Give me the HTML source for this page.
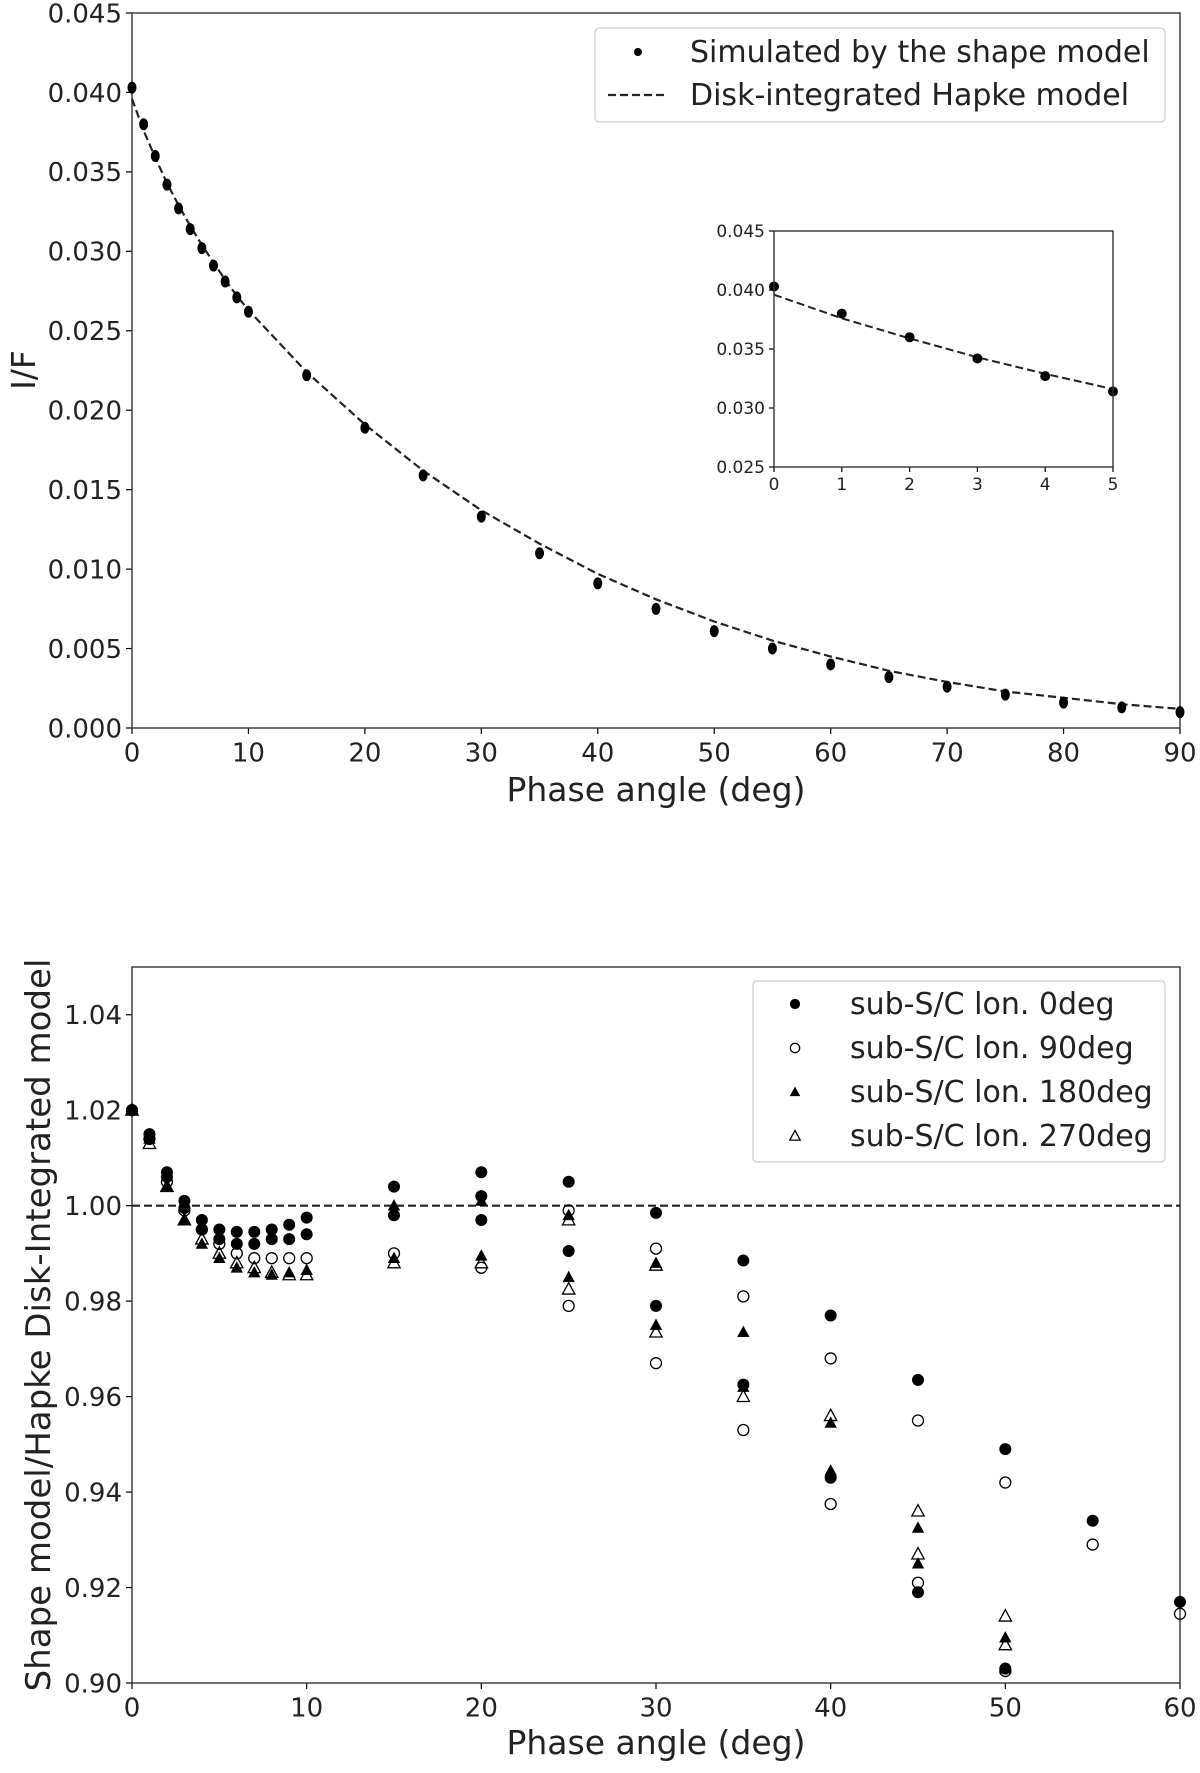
<!DOCTYPE html>
<html><head><meta charset="utf-8"><style>
body{margin:0;background:#fff}
svg{display:block;font-family:"DejaVu Sans","Liberation Sans",sans-serif}
</style></head><body>
<svg id="fig" width="1200" height="1773" viewBox="0 0 1200 1773" xmlns="http://www.w3.org/2000/svg"></svg>
<script>
// ---- Top chart data ----
const topAngles=[0,1,2,3,4,5,6,7,8,9,10,15,20,25,30,35,40,45,50,55,60,65,70,75,80,85,90];
const topSim=[0.0403,0.0380,0.0360,0.0342,0.0327,0.0314,0.0302,0.0291,0.0281,0.0271,0.0262,0.0222,0.0189,0.0159,0.0133,0.0110,0.0091,0.0075,0.0061,0.0050,0.0040,0.0032,0.0026,0.0021,0.0016,0.0013,0.0010];
const topModel=[0.0396,0.0376,0.0359,0.0343,0.0329,0.0316,0.0304,0.0293,0.0282,0.0272,0.0263,0.0224,0.0191,0.0162,0.0137,0.0116,0.0097,0.0081,0.0067,0.0055,0.0045,0.0036,0.0029,0.0023,0.0019,0.0015,0.0012];
const topYTicks=[0,0.005,0.010,0.015,0.020,0.025,0.030,0.035,0.040,0.045];
const topXTicks=[0,10,20,30,40,50,60,70,80,90];
const insetYTicks=[0.025,0.030,0.035,0.040,0.045];
const insetXTicks=[0,1,2,3,4,5];
// ---- Bottom chart data ----
const botX0=[0,1,1,2,2,3,3,4,4,5,5,6,6,7,7,8,8,9,9,10,10,15,15,20,20,20,25,25,30,30,35,35,40,40,45,45,50,50,55,60];
const botY0=[1.020,1.015,1.014,1.007,1.006,1.001,0.9995,0.997,0.995,0.995,0.993,0.9945,0.992,0.9945,0.992,0.995,0.993,0.996,0.993,0.9975,0.994,1.004,0.998,1.007,1.002,0.997,1.005,0.9905,0.9985,0.979,0.9885,0.9625,0.977,0.943,0.9635,0.919,0.949,0.903,0.934,0.917];
const botX90=[0,1,2,3,4,5,6,7,8,9,10,15,20,25,25,30,30,35,35,40,40,45,45,50,50,55,60];
const botY90=[1.020,1.014,1.005,0.999,0.995,0.992,0.990,0.989,0.989,0.989,0.989,0.990,0.987,0.999,0.979,0.991,0.967,0.981,0.953,0.968,0.9375,0.955,0.921,0.942,0.9025,0.929,0.9145];
const botX180=[0,1,2,3,4,5,6,7,8,9,10,15,15,20,20,25,25,30,30,35,35,40,40,45,45,50,50];
const botY180=[1.020,1.014,1.004,0.997,0.992,0.989,0.987,0.986,0.9855,0.986,0.9865,0.989,1.000,0.9895,1.001,0.998,0.985,0.988,0.975,0.9735,0.962,0.9545,0.9445,0.9325,0.925,0.9095,0.903];
const botX270=[0,1,2,3,4,5,6,7,8,9,10,15,20,25,25,30,30,35,40,45,45,50,50];
const botY270=[1.020,1.013,1.004,0.997,0.993,0.990,0.988,0.987,0.986,0.9855,0.9855,0.988,0.988,0.997,0.9825,0.9875,0.9735,0.960,0.956,0.936,0.927,0.914,0.908];
const botYTicks=[0.90,0.92,0.94,0.96,0.98,1.00,1.02,1.04];
const botXTicks=[0,10,20,30,40,50,60];

const NS="http://www.w3.org/2000/svg";
const svg=document.getElementById('fig');
function mk(tag,attrs,parent,text){const e=document.createElementNS(NS,tag);for(const k in attrs)e.setAttribute(k,attrs[k]);if(text!==undefined)e.textContent=text;(parent||svg).appendChild(e);return e;}
function scale(d0,d1,r0,r1){return v=>r0+(v-d0)/(d1-d0)*(r1-r0);}

function axes(g,L,T,R,B,xs,ys,xt,yt,fs,fmtY,fmtX,tl){
  xt.forEach(t=>{const x=xs(t);
    const l=mk('line',{x1:x,x2:x,y1:B,y2:B+tl,stroke:'#000','stroke-width':1.2},g);
    
    const tx=mk('text',{x:x,y:B+tl+fs*1.05,'font-size':fs,'text-anchor':'middle',fill:'#222'},g,fmtX(t));
    });
  yt.forEach(t=>{const y=ys(t);
    const l=mk('line',{x1:L-tl,x2:L,y1:y,y2:y,stroke:'#000','stroke-width':1.2},g);
    
    const tx=mk('text',{x:L-tl-4,y:y+fs*0.36,'font-size':fs,'text-anchor':'end',fill:'#222'},g,fmtY(t));
    });
  const fr=mk('rect',{x:L,y:T,width:R-L,height:B-T,fill:'none',stroke:'#333','stroke-width':1.4},g);
  
}

// ===== TOP =====
const gT=mk('g',{});
const tL=132,tR=1180,tT=13,tB=728;
const txs=scale(0,90,tL,tR),tys=scale(0,0.045,tB,tT);
axes(gT,tL,tT,tR,tB,txs,tys,topXTicks,topYTicks,26,v=>v.toFixed(3),v=>String(v),6);
const clipT=mk('clipPath',{id:'ct'},gT);mk('rect',{x:tL-8,y:tT,width:tR-tL+16,height:tB-tT+8},clipT);
const md=topAngles.map((a,i)=>(i?'L':'M')+txs(a).toFixed(1)+','+tys(topModel[i]).toFixed(1)).join('');
const ml=mk('path',{d:md,fill:'none',stroke:'#222','stroke-width':2.2,'stroke-dasharray':'8,4','clip-path':'url(#ct)'},gT);

topAngles.forEach((a,i)=>{const c=mk('ellipse',{cx:txs(a),cy:tys(topSim[i]),rx:4.5,ry:6,fill:'#000','clip-path':'url(#ct)'},gT);
  });
// inset
const gI=mk('g',{},gT);
const iL=774,iR=1113,iT=231,iB=467;
mk('rect',{x:iL,y:iT,width:iR-iL,height:iB-iT,fill:'#fff'},gI);
const ixs=scale(0,5,iL,iR),iys=scale(0.025,0.045,iB,iT);
const clipI=mk('clipPath',{id:'ci'},gI);mk('rect',{x:iL-7,y:iT,width:iR-iL+14,height:iB-iT},clipI);
const inIdx=topAngles.map((a,i)=>i).filter(i=>topAngles[i]<=5);
const id2=inIdx.map((i,k)=>(k?'L':'M')+ixs(topAngles[i]).toFixed(1)+','+iys(topModel[i]).toFixed(1)).join('');
const il=mk('path',{d:id2,fill:'none',stroke:'#222','stroke-width':2,'stroke-dasharray':'8,4'},gI);

inIdx.forEach(i=>{const c=mk('circle',{cx:ixs(topAngles[i]),cy:iys(topSim[i]),r:5,fill:'#000','clip-path':'url(#ci)'},gI);
  });
axes(gI,iL,iT,iR,iB,ixs,iys,insetXTicks,insetYTicks,17,v=>v.toFixed(3),v=>String(v),5);
// labels
let t=mk('text',{x:tL+(tR-tL)/2,y:801,'font-size':33,'text-anchor':'middle',fill:'#222'},gT,'Phase angle (deg)');

t=mk('text',{x:0,y:0,'font-size':33,'text-anchor':'middle',fill:'#222',transform:'translate(35,370) rotate(-90)'},gT,'I/F');

// legend
const lgT=mk('g',{},gT);
mk('rect',{x:595,y:28,width:570,height:94,rx:4,fill:'#fff',stroke:'#ccc','stroke-width':1.2},lgT);
mk('circle',{cx:638,cy:52,r:4,fill:'#000'},lgT);
mk('line',{x1:608,x2:668,y1:95,y2:95,stroke:'#222','stroke-width':2.2,'stroke-dasharray':'8,4'},lgT);
t=mk('text',{x:690,y:62,'font-size':30,fill:'#222'},lgT,'Simulated by the shape model');
t=mk('text',{x:690,y:105,'font-size':30,fill:'#222'},lgT,'Disk-integrated Hapke model');

// ===== BOTTOM =====
const gB=mk('g',{});
const bL=132,bR=1180,bT=967,bB=1683;
const bxs=scale(0,60,bL,bR),bys=scale(0.90,1.05,bB,bT);
axes(gB,bL,bT,bR,bB,bxs,bys,botXTicks,botYTicks,26,v=>v.toFixed(2),v=>String(v),6);
const clipB=mk('clipPath',{id:'cb'},gB);mk('rect',{x:bL-8,y:bT,width:bR-bL+16,height:bB-bT+8},clipB);
const rl=mk('line',{x1:bL,x2:bR,y1:bys(1),y2:bys(1),stroke:'#222','stroke-width':2.2,'stroke-dasharray':'8,4'},gB);

function marker(kind,cx,cy,g,s){
  s=s||1;
  if(kind==='fc')return mk('circle',{cx,cy,r:6*s,fill:'#000'},g);
  if(kind==='oc')return mk('circle',{cx,cy,r:5.5*s,fill:'none',stroke:'#000','stroke-width':1.3},g);
  const h=6.5*s,p=`${cx},${cy-h} ${cx+h*0.95},${cy+h*0.75} ${cx-h*0.95},${cy+h*0.75}`;
  if(kind==='ft')return mk('polygon',{points:p,fill:'#000'},g);
  return mk('polygon',{points:p,fill:'none',stroke:'#000','stroke-width':1.3},g);
}
const series=[['fc',botX0,botY0,'lon-0'],['oc',botX90,botY90,'lon-90'],['ft',botX180,botY180,'lon-180'],['ot',botX270,botY270,'lon-270']];
series.forEach(([k,xs,ys,n])=>{xs.forEach((x,i)=>{const m=marker(k,bxs(x),bys(ys[i]),gB);m.setAttribute('clip-path','url(#cb)');
  
  });});
t=mk('text',{x:bL+(bR-bL)/2,y:1754,'font-size':33,'text-anchor':'middle',fill:'#222'},gB,'Phase angle (deg)');

t=mk('text',{x:0,y:0,'font-size':34,'text-anchor':'middle',fill:'#222',transform:'translate(50,1325) rotate(-90)'},gB,'Shape model/Hapke Disk-Integrated model');

const lgB=mk('g',{},gB);
mk('rect',{x:753,y:981,width:412,height:181,rx:4,fill:'#fff',stroke:'#ccc','stroke-width':1.2},lgB);
const labs=['sub-S/C lon. 0deg','sub-S/C lon. 90deg','sub-S/C lon. 180deg','sub-S/C lon. 270deg'];
const rows=[1004,1048,1092,1136];
series.forEach(([k],i)=>{marker(k,795,rows[i],lgB,0.85);
  const tx=mk('text',{x:850,y:rows[i]+10,'font-size':30,fill:'#222'},lgB,labs[i]);
  });
</script>
</body></html>
